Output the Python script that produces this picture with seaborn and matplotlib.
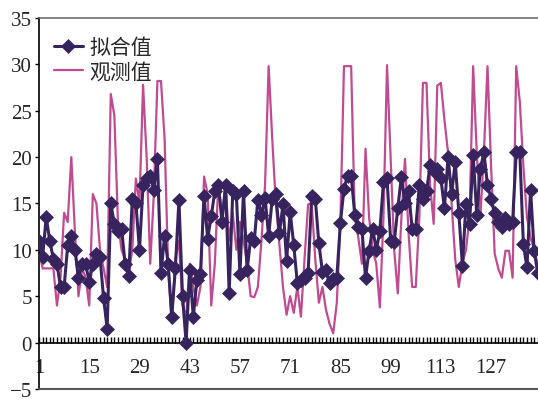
import numpy as np
import pandas as pd
import seaborn as sns
import matplotlib
matplotlib.use("Agg")
import matplotlib.pyplot as plt
from matplotlib.ticker import FixedLocator, MultipleLocator

# ---------------- data ----------------
fitted = [11, 9.2, 13.5, 11, 9, 8.5, 6, 6, 10.5, 11.5,
          10, 7, 8.5, 8.5, 6.5, 8.5, 9.6, 9.2, 4.8, 1.5,
          15, 12.8, 12, 12.3, 8.5, 7.2, 15.5, 15, 10, 17,
          17.7, 18, 16.5, 19.8, 7.5, 11.5, 8.5, 2.8, 8, 15.4,
          5, 0, 7.8, 2.8, 6.7, 7.4, 15.8, 11.2, 13.6, 16.3,
          17, 13, 17, 5.3, 16.3, 16, 7.4, 16.3, 7.8, 11.3,
          11, 15.4, 13.8, 15.6, 11.5, 15.5, 16, 11.8, 14.9, 8.8,
          14.1, 10.5, 6.4, 6.7, 7, 7.5, 15.8, 15.5, 10.7, 7.6,
          7.8, 6.4, 6.9, 7, 12.9, 16.6, 18, 18, 13.8, 12.5,
          12.3, 7, 9.9, 12.3, 10, 12, 17.3, 17.7, 11, 10.8,
          14.5, 17.9, 15, 16.3, 12.3, 12.3, 17, 15.5, 16.3, 19.1,
          18.5, 18.7, 17.7, 14.5, 20, 16, 19.5, 14, 8.3, 14.9,
          12.8, 20.2, 13.8, 18.7, 20.5, 17, 15.5, 14, 13, 12.5,
          13.4, 12.8, 13, 20.5, 20.5, 10.6, 8.1, 16.5, 9.9, 7.5]

observed = [10, 8, 8, 8, 8, 4, 7, 14, 13, 20,
            12, 5, 8, 7, 4, 16, 15, 10, 8, 6,
            26.8, 24.5, 13, 10, 9, 7.5, 10, 17.7, 15, 27.8,
            20, 8.5, 16, 28.2, 28.2, 22, 8, 2.1, 9, 11,
            4, 2.8, 8.5, 6, 4, 6, 17.9, 16, 4, 8.5,
            17.4, 13.5, 17, 11, 14, 10, 13, 11, 8.5, 5,
            4.9, 6, 11, 17, 29.8, 22, 15, 10.6, 6, 3,
            5, 3.2, 6, 2.8, 9, 14.9, 15, 9, 4.3, 6,
            3.5, 2, 1, 4.3, 13, 29.8, 29.8, 29.8, 13.5, 11.3,
            8.5, 20.9, 13.5, 10, 8.5, 3.8, 13.5, 29.9, 19.8, 10,
            5.3, 13.5, 19.8, 11.8, 6, 6, 13.5, 28, 28, 17,
            12.8, 27.7, 28, 24, 20.5, 15, 9, 6, 8.5, 10,
            13.5, 29.8, 20.5, 13.5, 20.5, 29.8, 19, 9.6, 8, 7,
            9.9, 9.9, 7, 29.8, 26, 19, 13.5, 11.3, 10, 8.5]

index = list(range(1, len(fitted) + 1))
x_tick_labels = [1, 15, 29, 43, 57, 71, 85, 99, 113, 127]
y_ticks = [-5, 0, 5, 10, 15, 20, 25, 30, 35]
series_names = ["拟合值", "观测值"]

# ---------------- style ----------------
sns.set_theme(style="white")
plt.rcParams["font.family"] = ["Liberation Serif", "Noto Sans CJK SC"]
plt.rcParams["axes.unicode_minus"] = True

navy = "#37245f"
magenta = "#c04b91"

df = pd.DataFrame({"idx": index, series_names[0]: fitted, series_names[1]: observed})

fig = plt.figure(figsize=(5.38, 4.02), dpi=100)
ax = fig.add_axes([0.0725, 0.0299, 0.927, 0.923])

sns.lineplot(data=df, x="idx", y=series_names[1], color=magenta, lw=1.6,
             ax=ax, label=series_names[1], zorder=2)
sns.lineplot(data=df, x="idx", y=series_names[0], color=navy, lw=2.2,
             marker="D", markersize=7, markeredgecolor=navy, markeredgewidth=0.5,
             ax=ax, label=series_names[0], zorder=3)

ax.set_xlim(1, 140)
ax.set_ylim(-5, 35)
ax.set_xlabel("")
ax.set_ylabel("")

# x axis drawn at y = 0
ax.spines["bottom"].set_position(("data", 0))
ax.spines["bottom"].set_color("black")
ax.spines["bottom"].set_linewidth(1.2)
ax.spines["right"].set_visible(False)
ax.spines["top"].set_color("#6e6e6e")
ax.spines["top"].set_linewidth(1.2)
ax.spines["left"].set_color("black")
ax.spines["left"].set_linewidth(1.2)
# frame line at the bottom (-5)
ax.plot([0, 1], [0, 0], transform=ax.transAxes, color="#555555", lw=1.5,
        clip_on=False, zorder=5)

ax.xaxis.set_major_locator(FixedLocator(x_tick_labels))
ax.xaxis.set_minor_locator(MultipleLocator(1))
ax.set_xticklabels([str(v) for v in x_tick_labels])
ax.tick_params(axis="x", which="both", direction="in", length=4, width=1,
               color="black", bottom=True)
ax.tick_params(axis="x", which="major", labelsize=15, pad=11)

ax.set_yticks(y_ticks)
ax.tick_params(axis="y", which="major", direction="out", length=3, width=1,
               color="black", left=True, labelsize=15, pad=2)

handles, labels = ax.get_legend_handles_labels()
order = [labels.index(series_names[0]), labels.index(series_names[1])]
ax.legend([handles[i] for i in order], [labels[i] for i in order],
          loc="upper left", bbox_to_anchor=(0.0, 0.99), frameon=False,
          prop={"family": ["Noto Sans CJK SC"], "size": 15},
          handlelength=1.4, handletextpad=0.3, labelspacing=0.1,
          borderaxespad=0.3)

fig.savefig("out.png", dpi=100)
